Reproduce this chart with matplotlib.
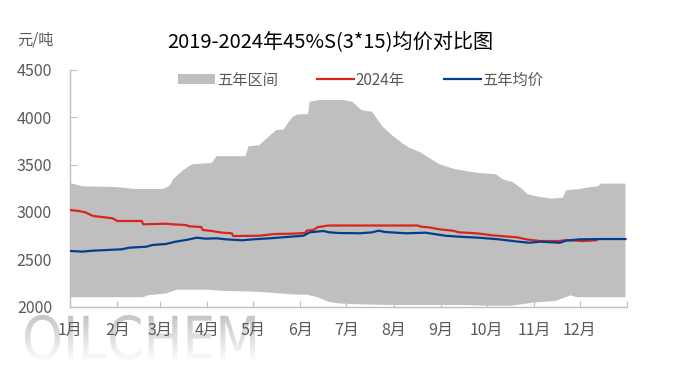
import numpy as np
import pandas as pd
import matplotlib
matplotlib.use("Agg")
import matplotlib.pyplot as plt
from matplotlib.colors import LinearSegmentedColormap
from matplotlib.font_manager import FontProperties
from matplotlib.patches import PathPatch
from matplotlib.textpath import TextPath
from matplotlib.transforms import Affine2D

plt.rcParams['font.family'] = ['Noto Sans CJK SC', 'DejaVu Sans']

YEAR = "2023-"

# five-year range, upper edge
upper_dates = ["01-01", "01-09", "01-31", "02-13", "03-03", "03-07", "03-10", "03-16", "03-22",
               "04-04", "04-07", "04-26", "04-28", "05-05", "05-09", "05-16", "05-21", "05-24",
               "05-27", "05-30", "06-06", "06-07", "06-13", "06-29", "07-05", "07-11", "07-18",
               "07-21", "07-25", "07-31", "08-07", "08-11", "08-18", "08-25", "08-31", "09-09",
               "09-18", "09-26", "10-07", "10-12", "10-18", "10-24", "10-28", "11-05", "11-13",
               "11-20", "11-22", "12-01", "12-06", "12-13", "12-15", "12-31"]
upper_vals = [3306, 3271, 3263, 3242, 3242, 3274, 3352, 3440, 3504,
              3518, 3589, 3589, 3695, 3705, 3765, 3864, 3871, 3945,
              4005, 4030, 4033, 4164, 4182, 4182, 4164, 4076, 4058,
              3988, 3899, 3811, 3723, 3681, 3634, 3564, 3504, 3458,
              3430, 3412, 3398, 3342, 3316, 3246, 3186, 3157, 3140,
              3151, 3228, 3242, 3257, 3271, 3299, 3299]

# five-year range, lower edge
lower_dates = ["01-01", "02-18", "02-21", "03-05", "03-12", "03-31", "04-10", "04-30", "05-09",
               "05-29", "06-05", "06-12", "06-20", "06-27", "07-07", "07-31", "08-24", "09-18",
               "10-02", "10-17", "10-31", "11-15", "11-25", "11-29", "12-31"]
lower_vals = [2099, 2099, 2118, 2138, 2178, 2178, 2166, 2158, 2150,
              2126, 2126, 2099, 2047, 2032, 2024, 2016, 2016, 2016,
              2008, 2008, 2040, 2059, 2118, 2099, 2099]

# 2024
y2024_dates = ["01-01", "01-07", "01-11", "01-16", "01-22", "01-29", "02-01", "02-17", "02-18",
               "03-05", "03-09", "03-18", "03-20", "03-28", "03-29", "04-04", "04-11", "04-17",
               "04-18", "05-05", "05-15", "05-27", "06-04", "06-05", "06-10", "06-12", "06-19",
               "08-17", "08-19", "08-24", "08-31", "09-09", "09-13", "09-24", "10-05", "10-21",
               "10-27", "11-05", "11-18", "11-22", "12-03", "12-12"]
y2024_vals = [3020, 3009, 2996, 2957, 2946, 2932, 2904, 2904, 2869,
              2875, 2869, 2861, 2848, 2840, 2809, 2798, 2780, 2774,
              2745, 2748, 2766, 2770, 2777, 2801, 2812, 2837, 2856,
              2856, 2844, 2837, 2816, 2801, 2784, 2774, 2752, 2731,
              2710, 2692, 2692, 2703, 2692, 2700]

# five-year average
avg_dates = ["01-01", "01-09", "01-16", "02-04", "02-09", "02-20", "02-24", "03-05", "03-11",
             "03-18", "03-25", "03-31", "04-07", "04-13", "04-24", "05-01", "05-12", "05-23",
             "06-03", "06-07", "06-16", "06-20", "06-26", "07-10", "07-18", "07-22", "07-27",
             "08-09", "08-22", "08-29", "09-04", "09-13", "09-26", "10-09", "10-22", "10-29",
             "11-05", "11-18", "11-22", "12-01", "12-14", "12-31"]
avg_vals = [2587, 2580, 2590, 2605, 2622, 2632, 2650, 2661, 2685,
            2703, 2727, 2717, 2721, 2710, 2700, 2710, 2721, 2735,
            2748, 2784, 2798, 2784, 2777, 2774, 2784, 2801, 2787,
            2774, 2780, 2763, 2748, 2738, 2727, 2710, 2685, 2674,
            2685, 2674, 2696, 2710, 2713, 2713]

month_labels = ["1月", "2月", "3月", "4月", "5月", "6月", "7月", "8月", "9月", "10月", "11月", "12月"]
y_ticks = [2000, 2500, 3000, 3500, 4000, 4500]


def to_dt(days):
    return pd.to_datetime([YEAR + d for d in days])


W, H = 685, 366
fig = plt.figure(figsize=(W / 100, H / 100), dpi=100)

# watermark layer in pixel coordinates, drawn below everything
bg = fig.add_axes([0, 0, 1, 1], zorder=-1)
bg.set_xlim(0, W)
bg.set_ylim(0, H)
bg.axis("off")
tp = TextPath((0, 0), "OILCHEM", size=1, prop=FontProperties(family="DejaVu Sans"))
bb = tp.get_extents()
wm_path = Affine2D().translate(-bb.x0, -bb.y0).scale(230 / bb.width, 45 / bb.height).translate(25, 6).transform_path(tp)
wm_patch = PathPatch(wm_path, facecolor="none", edgecolor="none", transform=bg.transData)
bg.add_patch(wm_patch)
fade = LinearSegmentedColormap.from_list("fade", ["#fbfbfb", "#c4c4c4"])
grad = np.linspace(0, 1, 100).reshape(-1, 1)
img = bg.imshow(grad, cmap=fade, extent=[25, 255, 6, 51], origin="lower", aspect="auto")
img.set_clip_path(wm_patch)

ax = fig.add_axes([70 / W, 1 - 306.5 / H, 557 / W, 236.5 / H])
ax.set_facecolor("none")

band_x = np.concatenate([to_dt(upper_dates).values, to_dt(lower_dates).values[::-1]])
band_y = np.concatenate([upper_vals, lower_vals[::-1]])
ax.fill(band_x, band_y, color="#bfbfbf", lw=0, label="五年区间", zorder=2)
ax.plot(to_dt(y2024_dates), y2024_vals, color="#d9261c", lw=1.6, label="2024年", zorder=3)
ax.plot(to_dt(avg_dates), avg_vals, color="#023e8f", lw=1.6, label="五年均价", zorder=4)

ax.set_ylim(2000, 4500)
ax.set_yticks(y_ticks)
ax.set_xlim(pd.Timestamp("2023-01-01"), pd.Timestamp("2024-01-01"))
xt = pd.date_range("2023-01-01", "2024-01-01", freq="MS")
ax.set_xticks(xt)
ax.set_xticklabels(month_labels + [""])

for s in ["top", "right"]:
    ax.spines[s].set_visible(False)
for s in ["left", "bottom"]:
    ax.spines[s].set_color("#bfbfbf")
    ax.spines[s].set_linewidth(1.0)
ax.tick_params(axis="both", direction="in", color="#bfbfbf", labelcolor="#595959", labelsize=11.5)
ax.tick_params(axis="y", length=5, pad=13)
ax.tick_params(axis="x", length=4, pad=11)

leg = ax.legend(loc="center", bbox_to_anchor=(361 / W, 1 - 80 / H), bbox_transform=fig.transFigure,
                ncol=3, frameon=False, fontsize=11, handlelength=2.4, handleheight=0.6,
                columnspacing=2.6, handletextpad=0.1)
for t in leg.get_texts():
    t.set_color("#595959")

fig.text(330 / W, 1 - 43 / H, "2019-2024年45%S(3*15)均价对比图", ha="center", va="center",
         fontsize=14.5, color="#000000")
fig.text(36 / W, 1 - 40 / H, "元/吨", ha="center", va="center", fontsize=11, color="#595959")

fig.savefig("out.png", dpi=100)
